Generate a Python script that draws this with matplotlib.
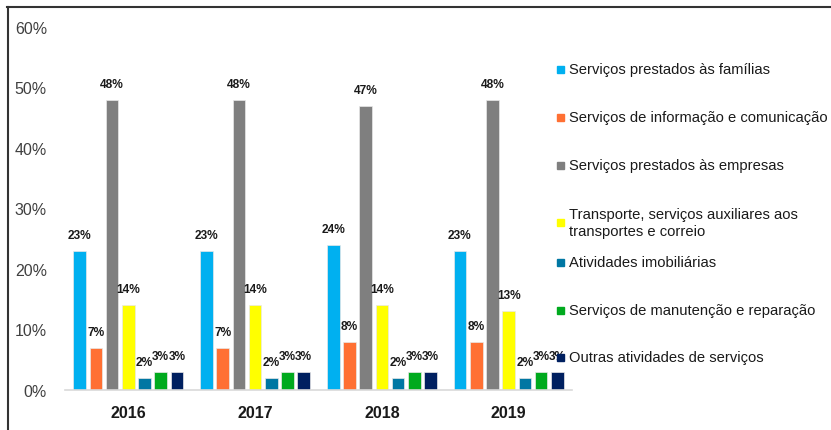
import numpy as np
import matplotlib.pyplot as plt
from matplotlib.patches import Rectangle
from matplotlib.lines import Line2D

plt.rcParams['font.family'] = ['Liberation Sans', 'DejaVu Sans']

# data
anos = ['2016', '2017', '2018', '2019']
categorias = ['Serviços prestados às famílias',
              'Serviços de informação e comunicação',
              'Serviços prestados às empresas',
              'Transporte, serviços auxiliares aos\ntransportes e correio',
              'Atividades imobiliárias',
              'Serviços de manutenção e reparação',
              'Outras atividades de serviços']
familias = [23, 23, 24, 23]
informacao = [7, 7, 8, 8]
empresas = [48, 48, 47, 48]
transporte = [14, 14, 14, 13]
imobiliarias = [2, 2, 2, 2]
manutencao = [3, 3, 3, 3]
outras = [3, 3, 3, 3]
series = [familias, informacao, empresas, transporte, imobiliarias, manutencao, outras]
cores = ['#00B0F0', '#FF7033', '#7F7F7F', '#FFFF00', '#0077A3', '#00AA1E', '#002060']

W, H = 831, 431
fig = plt.figure(figsize=(W / 100, H / 100), dpi=100)
ax = fig.add_axes([65 / W, 40 / H, (572 - 65) / W, (391 - 28) / H])

x = np.arange(len(anos))
slot = 0.128
width = 0.1
for i, (vals, cor) in enumerate(zip(series, cores)):
    pos = x + (i - 3) * slot
    bars = ax.bar(pos, vals, width, color=cor, edgecolor='#e8e8e8', linewidth=0.5)
    for b, v in zip(bars, vals):
        ax.annotate(f'{v}%', (b.get_x() + b.get_width() / 2, v),
                    xytext=(0, 11.5), textcoords='offset points',
                    ha='center', va='center', fontsize=8.6, fontweight='bold',
                    color='#1a1a1a')

ax.set_xlim(-0.5, 3.5)
ax.set_ylim(0, 60)
ax.set_yticks(np.arange(0, 61, 10))
ax.set_yticklabels([f'{t}%' for t in range(0, 61, 10)], fontsize=11.5, color='#404040')
ax.set_xticks(x)
ax.set_xticklabels(anos, fontsize=11.5, fontweight='bold', color='#1a1a1a')
ax.tick_params(axis='y', length=0, pad=13)
ax.tick_params(axis='x', length=0, pad=11)
for s in ['top', 'right', 'left']:
    ax.spines[s].set_visible(False)
ax.spines['bottom'].set_color('#d9d9d9')
ax.spines['bottom'].set_linewidth(1.2)

# legend drawn by hand to keep Excel-like spacing
leg_y = [70, 118, 166, 223.5, 263, 311, 358]
for cat, cor, yy in zip(categorias, cores, leg_y):
    fig.patches.append(Rectangle((557 / W, (H - yy - 3.5) / H), 7 / W, 7 / H,
                                 transform=fig.transFigure, color=cor))
    fig.text(569 / W, (H - yy) / H, cat, fontsize=10.6, color='#1a1a1a',
             va='center', ha='left', linespacing=1.25)

# frame
fig.add_artist(Line2D([7 / W, 1], [(H - 7.5) / H] * 2, color='#333333', lw=1.5))
fig.add_artist(Line2D([7.5 / W] * 2, [0, (H - 7.5) / H], color='#333333', lw=1.5))

fig.savefig('out.png', dpi=100)
